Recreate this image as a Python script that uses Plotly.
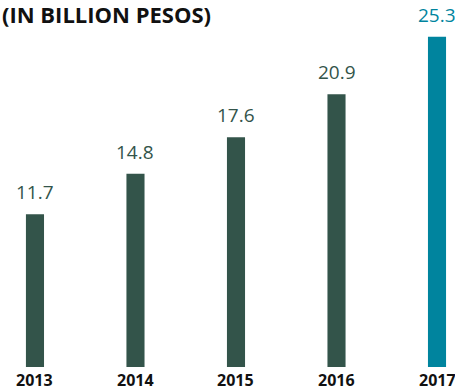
import plotly.graph_objects as go

years = ["2013", "2014", "2015", "2016", "2017"]
values = [11.7, 14.8, 17.6, 20.9, 25.3]
bar_colors = ["#33544a", "#33544a", "#33544a", "#33544a", "#00849e"]
title_text = "(IN BILLION PESOS)"

xpos = list(range(len(years)))

fig = go.Figure()
fig.add_trace(go.Bar(
    x=xpos,
    y=values,
    width=0.18,
    marker=dict(color=bar_colors, line=dict(width=0)),
    hoverinfo="skip",
))

# value labels above each bar
for x, v, c in zip(xpos, values, bar_colors):
    fig.add_annotation(
        x=x, y=v, xref="x", yref="y",
        text=f"{v:.1f}", showarrow=False,
        yanchor="bottom", yshift=7,
        font=dict(family="Open Sans", size=19, color=c),
    )

# year labels below each bar (annotations so the last one is never dropped)
for x, yr in zip(xpos, years):
    fig.add_annotation(
        x=x, y=0, xref="x", yref="paper",
        text=f"<b>{yr}</b>", showarrow=False,
        yanchor="top", yshift=-1, borderpad=0,
        font=dict(family="Open Sans", size=16, color="#111111"),
    )

fig.add_annotation(
    x=0, y=1, xref="paper", yref="paper",
    xanchor="left", yanchor="top", yshift=3,
    text=f"<b>{title_text}</b>", showarrow=False,
    font=dict(family="Open Sans", size=22, color="#111111"),
)

fig.update_layout(
    width=455, height=392,
    margin=dict(l=0, r=0, t=0, b=25),
    paper_bgcolor="white", plot_bgcolor="white",
    showlegend=False,
    xaxis=dict(range=[-0.348, 4.179], visible=False),
    yaxis=dict(range=[0, 28.12], visible=False),
)

fig.write_html("out.html")
